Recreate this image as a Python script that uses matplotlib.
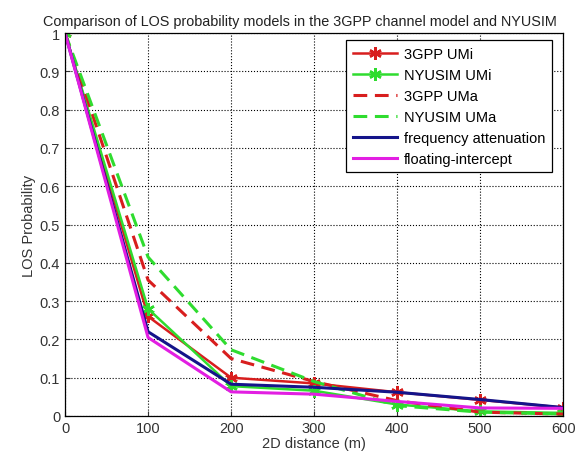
import numpy as np
import matplotlib.pyplot as plt

plt.rcParams['font.family'] = ['Liberation Sans', 'DejaVu Sans']

# 2D distance (m)
dist = [0, 100, 200, 300, 400, 500, 600]

# LOS probability per model
p_3gpp_umi = [1.0, 0.26, 0.10, 0.085, 0.062, 0.042, 0.022]
p_nyusim_umi = [1.0, 0.28, 0.078, 0.066, 0.030, 0.012, 0.008]
p_3gpp_uma = [1.0, 0.355, 0.150, 0.090, 0.040, 0.010, 0.005]
p_nyusim_uma = [1.0, 0.415, 0.173, 0.090, 0.027, 0.010, 0.005]
p_freq_att = [1.0, 0.22, 0.083, 0.075, 0.062, 0.043, 0.022]
p_float_int = [1.0, 0.205, 0.063, 0.057, 0.038, 0.021, 0.020]

fig = plt.figure(figsize=(5.86, 4.6), dpi=100)
ax = fig.add_axes([0.111, 0.0935, 0.85, 0.8325])

star = (6, 2, 0)  # matlab-ish asterisk
ax.plot(dist, p_3gpp_umi, '-', color='#d81e1e', lw=1.8, marker=star, ms=9, mew=1.8, label='3GPP UMi')
ax.plot(dist, p_nyusim_umi, '-', color='#2fdc2f', lw=1.8, marker=star, ms=9, mew=1.8, label='NYUSIM UMi')
ax.plot(dist, p_3gpp_uma, '--', color='#d81e1e', lw=2.2, dashes=(4.5, 2.5), label='3GPP UMa')
ax.plot(dist, p_nyusim_uma, '--', color='#2fdc2f', lw=2.2, dashes=(4.5, 2.5), label='NYUSIM UMa')
ax.plot(dist, p_freq_att, '-', color='#14148a', lw=2.2, label='frequency attenuation')
ax.plot(dist, p_float_int, '-', color='#e21ee2', lw=2.2, label='floating-intercept')

ax.set_xlim(0, 600)
ax.set_ylim(0, 1)
ax.set_xticks(range(0, 601, 100))
ax.set_yticks(np.arange(0, 1.01, 0.1))
ax.set_yticklabels(['0', '0.1', '0.2', '0.3', '0.4', '0.5', '0.6', '0.7', '0.8', '0.9', '1'])
ax.tick_params(direction='in', labelsize=10.5, colors='#333333', labelcolor='#333333')
ax.grid(True, linestyle=':', color='black', linewidth=0.8)
for s in ax.spines.values():
    s.set_linewidth(0.9)

ax.set_xlabel('2D distance (m)', fontsize=10.5, color='#333333', labelpad=1)
ax.set_ylabel('LOS Probability', fontsize=10.5, color='#333333', labelpad=3)
ax.set_title('Comparison of LOS probability models in the 3GPP channel model and NYUSIM',
             fontsize=10.4, color='#222222', pad=6, x=0.472)

leg = ax.legend(loc='upper right', fontsize=10.5, fancybox=False, framealpha=1,
                edgecolor='black', handlelength=3.0, borderpad=0.45, labelspacing=0.48,
                handletextpad=0.5, bbox_to_anchor=(0.992, 1.0))
leg.get_frame().set_linewidth(0.9)

fig.savefig('out.png', dpi=100)
